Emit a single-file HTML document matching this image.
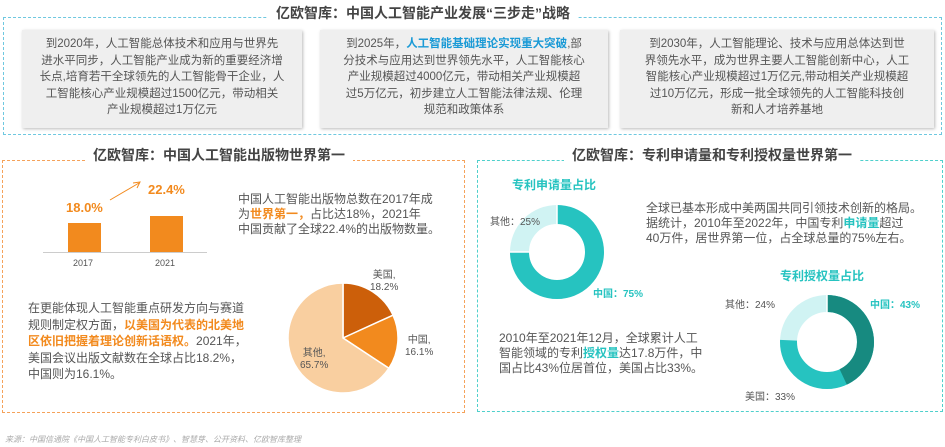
<!DOCTYPE html>
<html><head><meta charset="utf-8"><style>
body{margin:0;width:945px;height:447px;background:#fff;position:relative;overflow:hidden;font-family:"Liberation Sans","Noto Sans CJK SC",sans-serif;color:#555}
.a{position:absolute}
.t{font-size:12px;line-height:16px;color:#555}
.box{position:absolute;background:#efefef;box-shadow:1px 1px 3px #bbb;font-size:11.5px;line-height:16.5px;text-align:center;color:#555;padding-top:6px;box-sizing:border-box}
.ttl{position:absolute;background:#fff;font-weight:bold;font-size:14px;color:#444;padding:0 8px;white-space:nowrap}
.o{color:#f28a1e;font-weight:bold}
.c{color:#26c3c0;font-weight:bold}
</style></head><body>
<div class="a" style="left:3px;top:17px;width:937px;height:116px;border:1.5px dashed #6ec8e0"></div>
<div class="ttl" style="left:268px;top:3px">亿欧智库：中国人工智能产业发展“三步走”战略</div>
<div class="box" style="left:22px;top:30px;width:280px;height:98px">到2020年，人工智能总体技术和应用与世界先<br>进水平同步，人工智能产业成为新的重要经济增<br>长点,培育若干全球领先的人工智能骨干企业，人<br>工智能核心产业规模超过1500亿元，带动相关<br>产业规模超过1万亿元</div>
<div class="box" style="left:320px;top:30px;width:288px;height:98px">到2025年，<span style="color:#1a9ad6;font-weight:bold">人工智能基础理论实现重大突破</span>,部<br>分技术与应用达到世界领先水平，人工智能核心<br>产业规模超过4000亿元，带动相关产业规模超<br>过5万亿元，初步建立人工智能法律法规、伦理<br>规范和政策体系</div>
<div class="box" style="left:620px;top:30px;width:314px;height:98px">到2030年，人工智能理论、技术与应用总体达到世<br>界领先水平，成为世界主要人工智能创新中心，人工<br>智能核心产业规模超过1万亿元,带动相关产业规模超<br>过10万亿元，形成一批全球领先的人工智能科技创<br>新和人才培养基地</div>

<div class="a" style="left:2px;top:160px;width:461px;height:251px;border:1.5px dashed #f5a25a"></div>
<div class="ttl" style="left:85px;top:145px">亿欧智库：中国人工智能出版物世界第一</div>
<div class="a" style="left:43px;top:252px;width:164px;height:1px;background:#ccc"></div>
<div class="a" style="left:68px;top:223px;width:33px;height:29px;background:#f28a1e"></div>
<div class="a" style="left:150px;top:216px;width:33px;height:36px;background:#f28a1e"></div>
<div class="a o" style="left:66px;top:200px;font-size:13px">18.0%</div>
<div class="a o" style="left:148px;top:182px;font-size:13px">22.4%</div>
<div class="a" style="left:73px;top:258px;font-size:9px">2017</div>
<div class="a" style="left:155px;top:258px;font-size:9px">2021</div>
<svg class="a" style="left:105px;top:180px" width="40" height="25"><line x1="5" y1="20" x2="34" y2="3" stroke="#f28a1e" stroke-width="1"/><path d="M28,3 L35,2 L32,8" fill="none" stroke="#f28a1e"/></svg>
<div class="a t" style="left:238px;top:192px;line-height:15px">中国人工智能出版物总数在2017年成<br>为<span class="o">世界第一，</span>占比达18%，2021年<br>中国贡献了全球22.4%的出版物数量。</div>
<div class="a t" style="left:28px;top:300px;line-height:16.5px">在更能体现人工智能重点研发方向与赛道<br>规则制定权方面，<span class="o">以美国为代表的北美地<br>区依旧把握着理论创新话语权。</span>2021年，<br>美国会议出版文献数在全球占比18.2%，<br>中国则为16.1%。</div>
<svg class="a" style="left:280px;top:280px" width="130" height="130">
<g transform="translate(63,58)" stroke="#fff" stroke-width="1.5">
<path d="M0,0 L0,-55 A55,55 0 0 1 50.05,-22.8 Z" fill="#cc5f0a"/>
<path d="M0,0 L50.05,-22.8 A55,55 0 0 1 45.9,30.3 Z" fill="#f28a1e"/>
<path d="M0,0 L45.9,30.3 A55,55 0 1 1 0,-55 Z" fill="#f9cfa0"/>
</g></svg>
<div class="a" style="left:370px;top:270px;font-size:10px;line-height:12px;text-align:center">美国,<br>18.2%</div>
<div class="a" style="left:405px;top:335px;font-size:10px;line-height:12px;text-align:center">中国,<br>16.1%</div>
<div class="a" style="left:300px;top:348px;font-size:10px;line-height:12px;text-align:center">其他,<br>65.7%</div>
<div class="a" style="left:5px;top:434px;font-size:8px;color:#aaa;font-style:italic">来源：中国信通院《中国人工智能专利白皮书》、智慧芽、公开资料、亿欧智库整理</div>

<div class="a" style="left:477px;top:160px;width:464px;height:250px;border:1.5px dashed #4fd0cc"></div>
<div class="ttl" style="left:564px;top:145px">亿欧智库：专利申请量和专利授权量世界第一</div>
<div class="a c" style="left:512px;top:176px;font-size:12px">专利申请量占比</div>
<svg class="a" style="left:500px;top:200px" width="115" height="110">
<g transform="translate(57,52)">
<circle r="37.5" fill="none" stroke="#d0f3f3" stroke-width="19"/>
<circle r="37.5" fill="none" stroke="#26c3c0" stroke-width="19" stroke-dasharray="176.7 300" transform="rotate(-90)"/>
<line x1="0" y1="-28" x2="0" y2="-48" stroke="#fff" stroke-width="1.5"/>
<line x1="-28" y1="0" x2="-48" y2="0" stroke="#fff" stroke-width="1.5"/>
</g></svg>
<div class="a" style="left:490px;top:213px;font-size:10px">其他：25%</div>
<div class="a c" style="left:593px;top:285px;font-size:10px">中国：75%</div>
<div class="a t" style="left:646px;top:201px;line-height:15px">全球已基本形成中美两国共同引领技术创新的格局。<br>据统计，2010年至2022年，中国专利<span class="c">申请量</span>超过<br>40万件，居世界第一位，占全球总量的75%左右。</div>
<div class="a c" style="left:780px;top:267px;font-size:12px">专利授权量占比</div>
<svg class="a" style="left:770px;top:285px" width="115" height="115">
<g transform="translate(57,57)">
<circle r="38.5" fill="none" stroke="#d0f3f3" stroke-width="17"/>
<circle r="38.5" fill="none" stroke="#26c3c0" stroke-width="17" stroke-dasharray="182.9 300" transform="rotate(-90)"/>
<circle r="38.5" fill="none" stroke="#178a80" stroke-width="17" stroke-dasharray="104 300" transform="rotate(-90)"/>
<line x1="0" y1="-30" x2="0" y2="-48" stroke="#fff" stroke-width="1.5"/>
</g></svg>
<div class="a" style="left:725px;top:296px;font-size:10px">其他：24%</div>
<div class="a c" style="left:870px;top:296px;font-size:10px">中国：43%</div>
<div class="a" style="left:745px;top:388px;font-size:10px">美国：33%</div>
<div class="a t" style="left:499px;top:331px;line-height:15px">2010年至2021年12月，全球累计人工<br>智能领域的专利<span class="c">授权量</span>达17.8万件，中<br>国占比43%位居首位，美国占比33%。</div>
</body></html>
